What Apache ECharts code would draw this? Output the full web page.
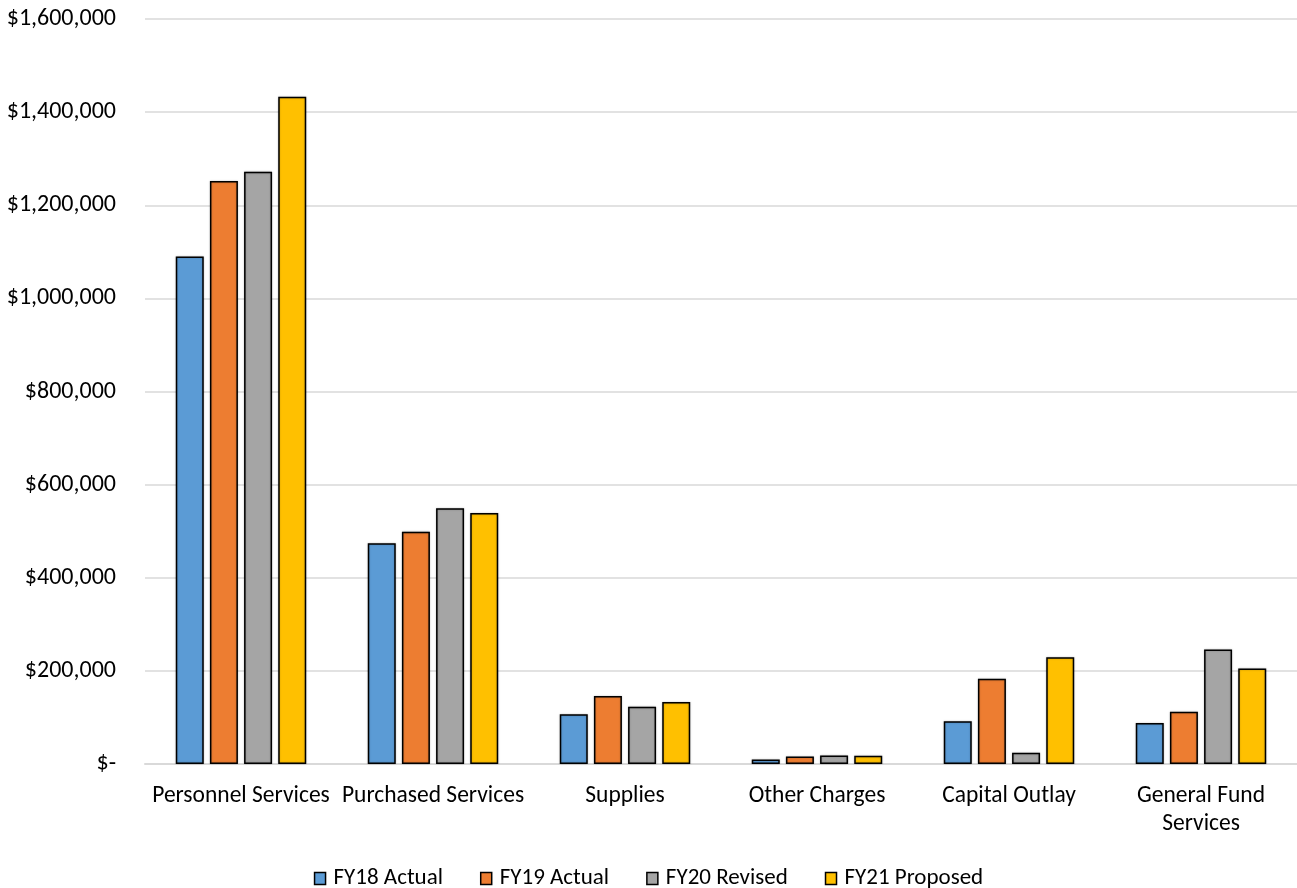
<!DOCTYPE html>
<html><head><meta charset="utf-8">
<script src="https://cdn.jsdelivr.net/npm/echarts@6/dist/echarts.min.js"></script>
<style>html,body{margin:0;padding:0;background:#fff}#c{width:1297px;height:888px}</style>
</head><body><div id="c"></div>
<script>
const categories = ["Personnel Services","Purchased Services","Supplies","Other Charges","Capital Outlay","General Fund\nServices"];
const seriesNames = ["FY18 Actual","FY19 Actual","FY20 Revised","FY21 Proposed"];
const fy18 = [1090000, 474000, 107000, 9500, 92000, 88000];
const fy19 = [1252000, 499000, 146000, 16000, 183000, 112000];
const fy20 = [1272000, 549000, 123000, 18500, 24000, 246000];
const fy21 = [1433000, 539000, 133000, 17500, 229000, 205000];
const colors = ["#5B9BD5","#ED7D31","#A5A5A5","#FFC000"];
const font = "Calibri, Carlito, Lato, 'Open Sans', sans-serif";
const data = [fy18, fy19, fy20, fy21];
const chart = echarts.init(document.getElementById('c'));
chart.setOption({
  animation:false,
  textStyle:{fontFamily:font},
  grid:{left:145,right:0,top:19,bottom:124},
  legend:{top:862,left:'center',itemWidth:11,itemHeight:12,itemGap:37,
    textStyle:{fontSize:23,color:'#000',fontFamily:font,padding:[0,0,0,3]},
    data:seriesNames.map((n,i)=>({name:n,icon:'rect',itemStyle:{color:colors[i],borderColor:'#000',borderWidth:1.5}}))},
  xAxis:{type:'category',data:categories,
    axisLine:{show:true,lineStyle:{color:'#d9d9d9',width:2}},axisTick:{show:false},
    axisLabel:{fontSize:23.5,color:'#000',margin:18,lineHeight:28,interval:0,fontFamily:font}},
  yAxis:{type:'value',min:0,max:1600000,interval:200000,
    axisLine:{show:false},axisTick:{show:false},
    splitLine:{lineStyle:{color:'#d9d9d9',width:1.5}},
    axisLabel:{fontSize:24,color:'#000',margin:29,fontFamily:font,
      formatter:v=> v===0 ? '$-' : '$'+v.toLocaleString('en-US')}},
  series:seriesNames.map((n,i)=>({name:n,type:'bar',data:data[i],
    barWidth:28,barGap:'22%',
    itemStyle:{color:colors[i],borderColor:'#000',borderWidth:1.5,shadowColor:'rgba(0,0,0,0.25)',shadowBlur:2}}))
});
</script></body></html>
